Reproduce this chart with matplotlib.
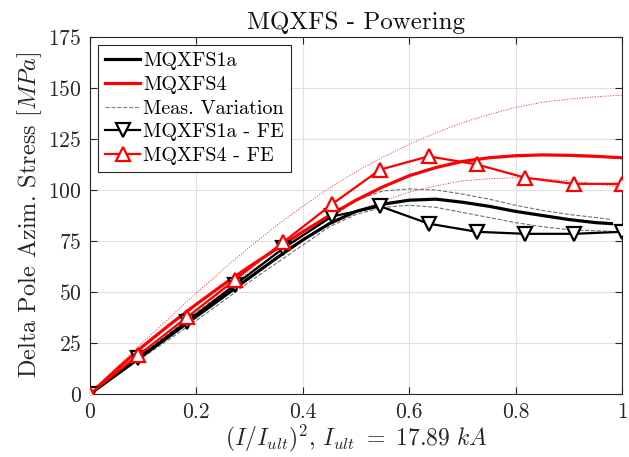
import numpy as np
import matplotlib
matplotlib.use("Agg")
import matplotlib.pyplot as plt

plt.rcParams["font.family"] = ["cmr10", "DejaVu Serif"]
plt.rcParams["mathtext.fontset"] = "cm"
plt.rcParams["axes.formatter.use_mathtext"] = True

# FE model results at (I/I_ult)^2 = k/11
x_fe = [0, 1/11, 2/11, 3/11, 4/11, 5/11, 6/11, 7/11, 8/11, 9/11, 10/11, 1.0]
s1a_fe = [0, 17.5, 35.5, 53.5, 71.5, 87, 92, 83.5, 79.5, 78.5, 78.5, 79.5]
s4_fe = [0, 19, 37.5, 56, 74.5, 93, 110, 116.5, 112.5, 106, 103, 103]

# Measured MQXFS4
x_s4 = [0, 0.05, 0.1, 0.15, 0.2, 0.25, 0.3, 0.35, 0.4, 0.45, 0.5, 0.55, 0.6,
        0.65, 0.7, 0.75, 0.8, 0.85, 0.9, 0.95, 1.0]
s4_meas = [0, 12, 23.5, 34, 44, 53.5, 62.5, 71, 79.5, 87.5, 95, 101.5, 107,
           111, 114, 115.8, 116.8, 117.2, 117, 116.5, 115.8]
s4_hi = [0, 13, 25.5, 37.5, 49.5, 61, 72, 82.5, 92, 101, 109, 116, 122.5,
         128, 133, 137, 140.5, 143, 144.5, 145.7, 146.5]
s4_lo = [0, 10.5, 21, 31, 41, 50.5, 60, 68.5, 76, 83, 89.5, 94.5, 99,
         102, 104.5, 105.5, 106, 105.5, 104.5, 103, 101.5]

# Measured MQXFS1a
x_s1a = [0, 0.05, 0.1, 0.15, 0.2, 0.25, 0.3, 0.35, 0.4, 0.45, 0.5, 0.55, 0.6,
         0.65, 0.7, 0.75, 0.8, 0.85, 0.9, 0.95, 0.98]
s1a_meas = [0, 9.5, 19, 28.5, 38, 47.5, 57, 66.5, 75.5, 83.5, 89.5, 93, 95,
            95.5, 94, 92, 89.5, 87.5, 85.5, 84, 83.5]
s1a_hi = [0, 10, 20, 30, 40, 49.5, 59, 68.5, 77.5, 86, 95, 99.5, 100.5,
          100, 98, 95.5, 92.5, 90, 88, 86.5, 85.5]
s1a_lo = [0, 9, 18, 27, 36, 45.5, 55, 64, 73, 82, 88, 91.5, 92.5,
          91.5, 89, 86.5, 84, 82, 80.5, 80, 79.8]

xticks = [0, 0.2, 0.4, 0.6, 0.8, 1]
xticklabels = ["0", "0.2", "0.4", "0.6", "0.8", "1"]
yticks = [0, 25, 50, 75, 100, 125, 150, 175]

fig = plt.figure(figsize=(6.29, 4.57), dpi=100)
ax = fig.add_axes([0.143, 0.138, 0.846, 0.781])

# variation band of the measurements
ax.plot(x_s1a, s1a_hi, "--", color="#707070", lw=0.8, zorder=2)
ax.plot(x_s1a, s1a_lo, "--", color="#707070", lw=0.8, zorder=2)
ax.plot(x_s4, s4_hi, ":", color="#ff3030", lw=0.7, zorder=2)
ax.plot(x_s4, s4_lo, ":", color="#ff3030", lw=0.7, zorder=2)

ax.plot(x_s1a, s1a_meas, "-", color="black", lw=2.3, zorder=3)
ax.plot(x_s4, s4_meas, "-", color="red", lw=2.3, zorder=3)

ax.plot(x_fe, s1a_fe, "-", color="black", lw=1.6, marker="v", ms=10,
        mfc="white", mec="black", mew=1.6, zorder=4)
ax.plot(x_fe, s4_fe, "-", color="red", lw=1.6, marker="^", ms=10,
        mfc="white", mec="red", mew=1.6, zorder=4)

# legend proxies
h1, = ax.plot([], [], "-", color="black", lw=2.3)
h2, = ax.plot([], [], "-", color="red", lw=2.3)
h3, = ax.plot([], [], "--", color="#808080", lw=0.8)
h4, = ax.plot([], [], "-", color="black", lw=1.6, marker="v", ms=10,
              mfc="white", mec="black", mew=1.6)
h5, = ax.plot([], [], "-", color="red", lw=1.6, marker="^", ms=10,
              mfc="white", mec="red", mew=1.6)
leg = ax.legend([h1, h2, h3, h4, h5],
                ["MQXFS1a", "MQXFS4", "Meas. Variation", "MQXFS1a - FE", "MQXFS4 - FE"],
                loc="upper left", fontsize=14.5, frameon=True, fancybox=False,
                edgecolor="#262626", framealpha=1, handlelength=1.75,
                handletextpad=0.15, borderpad=0.35, labelspacing=0.28,
                borderaxespad=0.4)
leg.get_frame().set_linewidth(0.8)

ax.set_xlim(0, 1)
ax.set_ylim(0, 175)
ax.set_xticks(xticks)
ax.set_xticklabels(xticklabels)
ax.set_yticks(yticks)
ax.grid(True, color="#e0e0e0", lw=0.8)
ax.set_axisbelow(True)
ax.tick_params(direction="in", top=True, right=True, labelsize=15.5,
               colors="#262626", length=5, width=0.8, pad=6)
for sp in ax.spines.values():
    sp.set_color("#262626")
    sp.set_linewidth(0.8)

ax.set_title("MQXFS - Powering", fontsize=18, color="#111111", pad=6)
ax.set_xlabel(r"$(I/I_{ult})^2$, $I_{ult}\ =\ 17.89\ kA$", fontsize=17,
              color="#262626", labelpad=1)
ax.set_ylabel(r"Delta Pole Azim. Stress $[MPa]$", fontsize=17.5,
              color="#262626", labelpad=3)

fig.savefig("out.png", dpi=100)
